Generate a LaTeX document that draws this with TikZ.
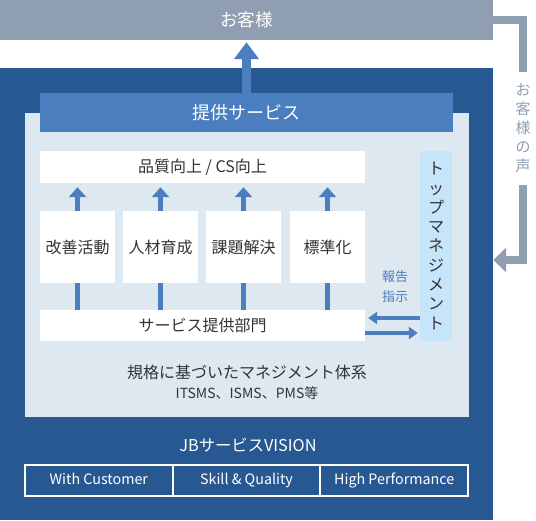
\documentclass[tikz,border=0pt]{standalone}
\usepackage{fontspec}
\setmainfont{Noto Sans CJK JP}
\usetikzlibrary{positioning,arrows.meta}
\definecolor{custgray}{HTML}{8F9EB1}
\definecolor{darkblue}{HTML}{285892}
\definecolor{midblue}{HTML}{4A7EBF}
\definecolor{palebg}{HTML}{DEE8F0}
\definecolor{skyblue}{HTML}{C6E4FA}
\definecolor{ink}{HTML}{333333}
\tikzset{box/.style = {rectangle,inner sep=0pt,text=ink},
         whitebox/.style = {box,fill=white,font=\fontsize{16}{18}\selectfont},
         up/.style = {midblue,line width=5pt,-{Triangle[width=17pt,length=10pt]},shorten >=4pt},
         shaft/.style = {midblue,line width=5pt},
         side/.style = {midblue,line width=4pt,-{Triangle[width=12pt,length=9pt]}},
         voice/.style = {custgray,line width=7.5pt},
         visionbox/.style = {box,draw=white,line width=2pt,minimum width=147.7pt,minimum height=31pt,text height=10.5pt,text depth=3.5pt,text=white,font=\fontsize{14.3}{16}\selectfont}}

\begin{document}
\begin{tikzpicture}[x=1pt, y=-1pt]
    \useasboundingbox (0,0) rectangle (536,520);
    \node[box, fill=custgray, minimum width=493pt, minimum height=40pt, text=white, font=\fontsize{17.6}{19}\selectfont] (cust) at (246.5,20) {お客様};
    \node[box, fill=darkblue, minimum width=493pt, minimum height=452pt] (base) at (246.5,294) {};
    \node[box, fill=palebg, minimum width=444pt, minimum height=304pt] (inner) at (247,265) {};
    \node[box, fill=midblue, minimum width=413pt, minimum height=39pt, text=white, font=\fontsize{18}{20}\selectfont] (svc) at (246.5,112.5) {提供サービス};
    \draw[midblue, line width=9pt, -{Triangle[width=24pt,length=17pt]}, shorten >=2pt] (svc.north -| cust) -- (cust.south);

    \node[whitebox, minimum width=325pt, minimum height=32pt] (qual) at (202.5,167) {品質向上 / CS向上};
    \node[whitebox, minimum width=325pt, minimum height=31pt] (dept) at (202.5,325.5) {サービス提供部門};
    \foreach \x/\t [count=\i] in {77.5/改善活動, 160.5/人材育成, 243.5/課題解決, 327.5/標準化} {
        \node[whitebox, minimum width=75pt, minimum height=72pt] (act\i) at (\x,247) {\t};
        \draw[shaft] (dept.north -| act\i) -- (act\i.south);
        \draw[up] (act\i.north) -- (qual.south -| act\i);
    }

    \node[box, fill=skyblue, minimum width=32pt, minimum height=190pt, align=center, font=\fontsize{16}{19.3}\selectfont] (top) at (436,246) {ト\\ッ\\プ\\マ\\ネ\\ジ\\メ\\ン\\ト};
    \node[box, text=midblue, align=center, font=\fontsize{13}{20}\selectfont] (note) at (395,287) {報告\\指示};
    \draw[side, shorten >=3pt] (top.west |- 0,318) -- (dept.east |- 0,318);
    \draw[side, shorten >=2pt] (dept.east |- 0,333) -- (top.west |- 0,333);

    \node[box, font=\fontsize{16}{18}\selectfont] (frame) at (247,372) {規格に基づいたマネジメント体系};
    \node[box, font=\fontsize{14}{16}\selectfont] (std) at (247,393) {ITSMS、ISMS、PMS等};

    \node[box, text=white, font=\fontsize{16.3}{18}\selectfont] (vision) at (248,445) {JBサービスVISION};
    \node[visionbox] (vis1) at (98.8,480.5) {With Customer};
    \node[visionbox] (vis2) at (246.5,480.5) {Skill \& Quality};
    \node[visionbox] (vis3) at (394.2,480.5) {High Performance};

    \coordinate (v1) at (523,20);
    \coordinate (v2) at (523,72);
    \coordinate (v3) at (523,185);
    \coordinate (v4) at (523,260);
    \draw[voice] (cust.east) -- (v1) -- (v2);
    \node[box, text=custgray, align=center, font=\fontsize{15}{19}\selectfont] (say) at (523,128.5) {お\\客\\様\\の\\声};
    \draw[voice, -{Triangle[width=24pt,length=13pt]}] (v3) -- (v4) -- (base.east |- v4);
\end{tikzpicture}
\end{document}
